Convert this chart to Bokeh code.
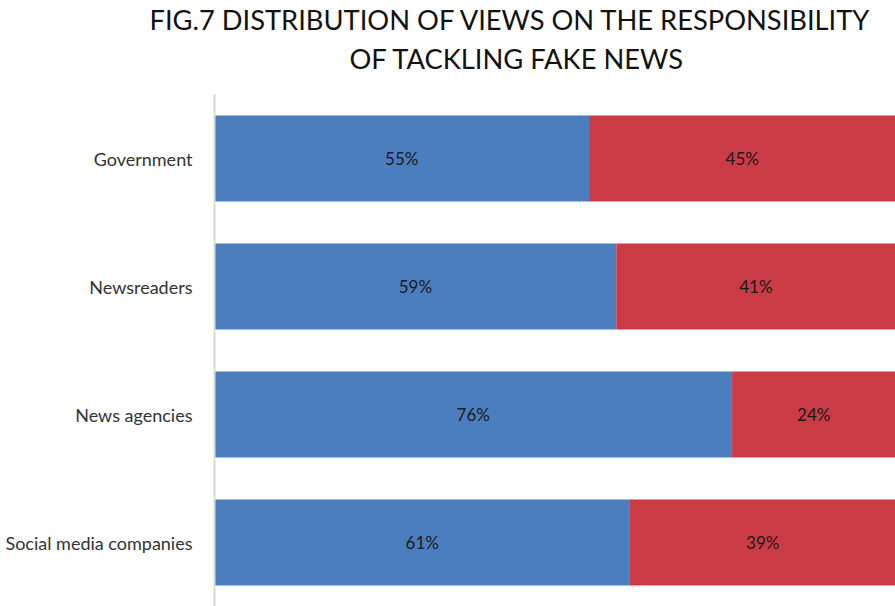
from bokeh.plotting import figure
from bokeh.models import ColumnDataSource, FactorRange, Range1d, LabelSet, Title
from bokeh.core.properties import value
from bokeh.embed import file_html
from bokeh.resources import INLINE

categories = ["Government", "Newsreaders", "News agencies", "Social media companies"]
yes_values = [55, 59, 76, 61]
no_values = [45, 41, 24, 39]
title_lines = ["FIG.7 DISTRIBUTION OF VIEWS ON THE RESPONSIBILITY", "OF TACKLING FAKE NEWS"]

BLUE = "#4A7EBF"
RED = "#CB3B45"

src = ColumnDataSource(dict(
    cat=categories,
    yes=yes_values,
    no=no_values,
    zero=[0] * len(categories),
    total=[a + b for a, b in zip(yes_values, no_values)],
    yes_mid=[a / 2 for a in yes_values],
    no_mid=[a + b / 2 for a, b in zip(yes_values, no_values)],
    yes_lbl=[f"{v}%" for v in yes_values],
    no_lbl=[f"{v}%" for v in no_values],
))

p = figure(width=895, height=606, output_backend="svg", toolbar_location=None,
           y_range=FactorRange(*reversed(categories)), x_range=Range1d(0, 100),
           min_border_left=214, min_border_right=0, min_border_top=94, min_border_bottom=0)
p.title.visible = False
p.outline_line_color = None
p.xgrid.visible = False
p.ygrid.visible = False
p.xaxis.visible = False
p.background_fill_color = "white"
p.border_fill_color = "white"

p.hbar(y="cat", left="zero", right="yes", height=0.67, source=src,
       fill_color=BLUE, line_color=None)
p.hbar(y="cat", left="yes", right="total", height=0.67, source=src,
       fill_color=RED, line_color=None)

FONT = "Lato"
for xcol, lcol in (("yes_mid", "yes_lbl"), ("no_mid", "no_lbl")):
    p.add_layout(LabelSet(x=xcol, y="cat", text=lcol, source=src,
                          text_align="center", text_baseline="middle",
                          text_font=value(FONT), text_font_size=value("17px"),
                          text_color="#1a1a1a"))

ax = p.yaxis[0]
ax.axis_line_color = "#d9d9d9"
ax.axis_line_width = 2
ax.major_tick_line_color = None
ax.minor_tick_line_color = None
ax.major_tick_out = 0
ax.major_tick_in = 0
ax.minor_tick_out = 0
ax.minor_tick_in = 0
ax.major_label_standoff = 22
ax.major_label_text_font = FONT
ax.major_label_text_font_size = "18px"
ax.major_label_text_color = "#333333"

# second line first: later titles stack above earlier ones
p.add_layout(Title(text=title_lines[1], align="left", offset=135, standoff=39,
                   text_font=FONT, text_font_size="27.3px", text_font_style="normal",
                   text_color="#111111"), "above")
p.add_layout(Title(text=title_lines[0], align="left", offset=-65, standoff=-30,
                   text_font=FONT, text_font_size="27.3px", text_font_style="normal",
                   text_color="#111111"), "above")

open("out.html", "w").write(file_html(p, INLINE))
